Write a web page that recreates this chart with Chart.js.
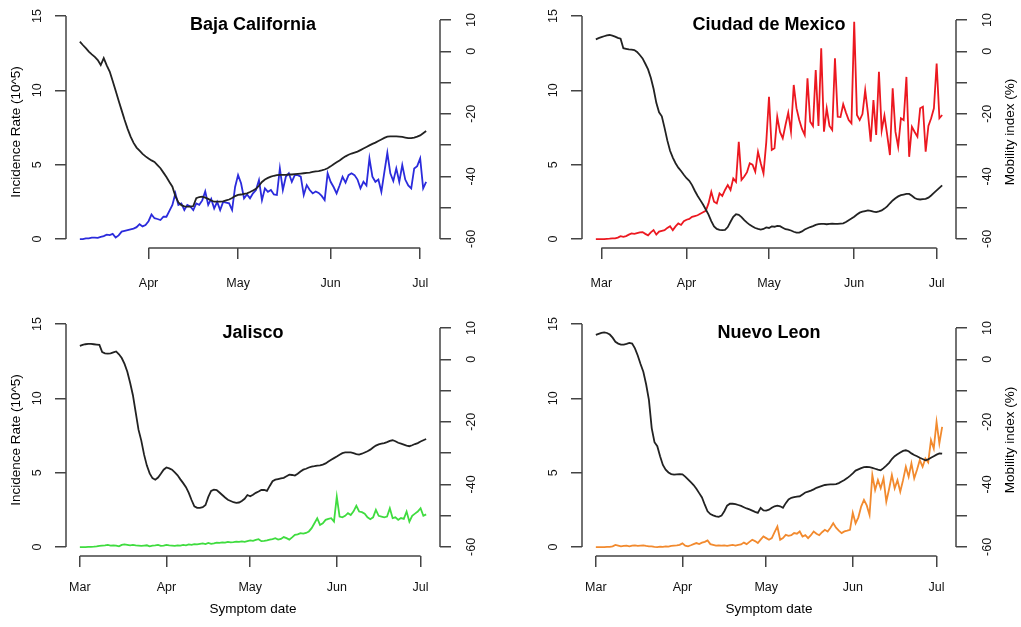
<!DOCTYPE html>
<html>
<head>
<meta charset="utf-8">
<title>Incidence and mobility by state</title>
<script src="https://cdn.jsdelivr.net/npm/chart.js@4.4.1/dist/chart.umd.min.js"></script>
<style>
  body { margin: 0; background: #fff; width: 1021px; height: 627px; position: relative; overflow: hidden; }
  canvas { position: absolute; }
</style>
</head>
<body>
<canvas id="baja" width="510" height="308" style="left:0;top:0"></canvas>
<canvas id="cdmx" width="505" height="308" style="left:516px;top:0"></canvas>
<canvas id="jalisco" width="510" height="319" style="left:0;top:308px"></canvas>
<canvas id="nuevoleon" width="505" height="319" style="left:516px;top:308px"></canvas>
<script>
// days counted from 1 March 2020 (day 0)
const monthTicks = [0, 31, 61, 92, 122];
const monthLabels = ["Mar", "Apr", "May", "Jun", "Jul"];
const incidenceTicks = [0, 5, 10, 15];
const mobilityTicks = [-60, -50, -40, -30, -20, -10, 0, 10];
const mobilityLabelled = [-60, -40, -20, 0, 10];

// Baja California, first day = 9 Mar
const bajaStart = 8;
const bajaIncidence = [
  0.0, 0.0, 0.05, 0.05, 0.1, 0.1, 0.08, 0.15, 0.2, 0.3,
  0.27, 0.35, 0.1, 0.25, 0.5, 0.55, 0.6, 0.65, 0.7, 0.8,
  1.0, 0.85, 0.94, 1.2, 1.65, 1.4, 1.35, 1.28, 1.5, 1.5,
  1.9, 2.3, 3.07, 2.3, 2.4, 1.95, 2.3, 2.2, 1.95, 2.4,
  2.3, 2.6, 3.2, 2.3, 2.7, 2.06, 2.5, 1.95, 2.5, 2.45,
  2.4, 1.95, 3.5, 4.3, 3.75, 2.74, 3.0, 2.74, 3.07, 3.3,
  3.97, 2.62, 3.41, 3.18, 3.3, 3.0, 2.96, 4.75, 3.3, 4.19,
  4.42, 3.85, 4.3, 4.3, 4.2, 2.96, 3.63, 3.3, 3.07, 3.2,
  3.1, 2.9, 2.62, 4.42, 3.85, 3.5, 3.07, 3.6, 4.19, 3.8,
  4.3, 4.42, 4.3, 4.0, 3.41, 3.85, 3.6, 5.43, 4.2, 3.85,
  4.0, 3.18, 4.5, 5.8, 4.42, 3.9, 4.75, 3.85, 4.98, 4.0,
  3.6, 3.41, 4.75, 4.9, 5.43, 3.41, 3.85
];
const bajaMobility = [
  3.1, 2.0, 1.0, -0.1, -1.0, -1.8, -2.8, -4.4, -2.2, -4.5,
  -6.5, -9.5, -12.6, -15.8, -18.9, -22.0, -24.8, -27.3, -29.3, -30.8,
  -31.8, -32.8, -33.6, -34.3, -34.9, -35.4, -36.4, -37.4, -38.8, -40.2,
  -41.8, -43.3, -46.3, -48.3, -49.2, -49.6, -49.7, -49.7, -49.5, -47.0,
  -46.6, -46.5, -46.8, -47.2, -47.7, -48.1, -48.1, -48.1, -48.0, -47.7,
  -47.4, -46.9, -46.3, -45.9, -45.8, -45.6, -45.4, -45.0, -44.5, -44.0,
  -43.0, -41.8, -41.0, -40.5, -40.1, -39.8, -39.6, -39.5, -39.5, -39.5,
  -39.4, -39.4, -39.3, -39.2, -39.1, -39.0, -38.9, -38.8, -38.6, -38.4,
  -38.3, -38.1, -37.8, -37.4, -36.8, -36.1, -35.5, -34.9, -34.2, -33.6,
  -33.1, -32.7, -32.4, -32.1, -31.6, -31.1, -30.6, -30.1, -29.6, -29.2,
  -28.7, -28.2, -27.7, -27.3, -27.2, -27.2, -27.2, -27.3, -27.4, -27.6,
  -27.8, -27.8, -27.6, -27.3, -26.9, -26.2, -25.5
];

// Ciudad de Mexico, first day = 28 Feb
const cdmxStart = -2;
const cdmxIncidence = [
  0.0, 0.0, 0.0, 0.0, 0.02, 0.03, 0.05, 0.05, 0.1, 0.2,
  0.15, 0.2, 0.3, 0.38, 0.35, 0.4, 0.45, 0.47, 0.35, 0.25,
  0.45, 0.6, 0.3, 0.5, 0.55, 0.6, 0.75, 0.87, 0.6, 0.85,
  1.05, 0.95, 1.2, 1.3, 1.35, 1.5, 1.55, 1.6, 1.7, 1.8,
  1.9, 2.4, 3.18, 2.51, 2.4, 3.07, 2.9, 3.3, 3.63, 3.3,
  4.08, 3.85, 6.54, 3.97, 4.2, 4.5, 5.09, 5.0, 4.53, 5.87,
  5.1, 4.42, 6.5, 9.57, 5.99, 6.1, 8.22, 7.2, 6.77, 7.67,
  8.5, 7.22, 10.36, 8.8, 8.0, 7.4, 7.0, 10.8, 7.89, 7.6,
  11.37, 7.6, 12.82, 7.22, 8.79, 7.6, 7.33, 12.15, 8.22, 8.2,
  9.06, 8.5, 8.0, 7.78, 14.6, 8.34, 8.0, 8.4, 10.0, 8.45,
  6.54, 9.35, 7.0, 11.25, 7.3, 8.3, 7.0, 5.65, 10.13, 7.22,
  6.21, 8.12, 8.0, 10.9, 5.53, 7.55, 7.2, 6.88, 8.79, 8.9,
  5.87, 7.6, 8.12, 8.79, 11.8, 8.12, 8.34
];
const cdmxMobility = [
  3.8, 4.2, 4.5, 4.8, 5.1, 5.2, 5.0, 4.7, 4.3, 4.0,
  1.0, 0.8, 0.6, 0.5, 0.4, -0.2, -1.2, -2.3, -4.0, -5.8,
  -8.5, -12.0, -16.5, -19.5, -20.8, -24.5, -28.5, -31.8, -34.0, -35.8,
  -37.2, -38.3, -39.5, -40.6, -41.4, -42.8, -44.6, -46.2, -47.6, -49.0,
  -50.6, -52.2, -54.3, -56.0, -56.8, -57.1, -57.2, -57.1, -56.2, -54.5,
  -52.9, -52.1, -52.3, -53.0, -54.0, -54.8, -55.5, -56.0, -56.5, -56.8,
  -57.0, -56.8, -56.3, -56.5, -56.0, -56.1, -55.8, -55.9, -56.4, -56.9,
  -57.0, -57.3, -57.7, -58.0, -58.0, -57.6, -57.0, -56.6, -56.2, -55.9,
  -55.5, -55.3, -55.2, -55.2, -55.3, -55.2, -55.1, -55.2, -55.2, -55.1,
  -55.0, -54.6, -54.0, -53.5, -52.9, -52.2, -51.6, -51.3, -51.1, -50.9,
  -51.0, -51.3, -51.4, -51.2, -50.9, -50.3, -49.6, -48.6, -47.7, -47.0,
  -46.4, -46.0, -45.8, -45.6, -45.6, -46.2, -46.9, -47.3, -47.4, -47.3,
  -47.2, -46.8, -46.1, -45.3, -44.5, -43.7, -42.9
];

// Jalisco, first day = 1 Mar
const jaliscoStart = 0;
const jaliscoIncidence = [
  0, 0, 0, 0.01, 0.02, 0.03, 0.05, 0.08, 0.1, 0.12, 0.15,
  0.1, 0.12, 0.1, 0.05, 0.15, 0.18, 0.15, 0.12, 0.15, 0.12,
  0.1, 0.08, 0.1, 0.12, 0.05, 0.1, 0.12, 0.15, 0.08, 0.1,
  0.15, 0.12, 0.1, 0.08, 0.12, 0.1, 0.15, 0.12, 0.18, 0.15,
  0.2, 0.18, 0.22, 0.25, 0.2, 0.28, 0.22, 0.25, 0.3, 0.28,
  0.32, 0.3, 0.35, 0.31, 0.33, 0.36, 0.35, 0.38, 0.35, 0.4,
  0.45, 0.42, 0.48, 0.53, 0.4, 0.42, 0.45, 0.5, 0.53, 0.6,
  0.5, 0.55, 0.67, 0.6, 0.5, 0.65, 0.82, 0.85, 0.94, 0.9,
  0.95, 1.05, 1.27, 1.6, 1.94, 1.49, 1.6, 1.83, 1.9, 1.94,
  1.71, 3.39, 2.05, 2.0, 2.1, 2.28, 2.15, 2.4, 2.77, 2.39,
  2.35, 2.25, 2.0, 1.87, 2.0, 2.5, 2.1, 2.05, 2.0, 2.05,
  2.61, 1.94, 2.0, 1.83, 1.95, 1.9, 2.39, 1.71, 2.1, 2.25,
  2.39, 2.61, 2.1, 2.2
];
const jaliscoMobility = [
  4.3, 4.6, 4.8, 4.9, 4.9, 4.8, 4.7, 4.6, 2.3, 1.9,
  1.8, 1.9, 2.2, 2.5, 1.6, 0.4, -1.5, -4.0, -7.5, -11.5,
  -17.0, -22.5, -26.0, -30.5, -34.0, -36.5, -38.0, -38.5, -37.8, -36.6,
  -35.3, -34.6, -34.9, -35.3, -36.2, -37.1, -38.4, -39.6, -40.9, -42.7,
  -45.0, -47.0, -47.5, -47.5, -47.3, -46.6, -44.0, -42.1, -41.7, -41.8,
  -42.6, -43.4, -44.2, -44.9, -45.3, -45.7, -45.9, -45.8, -45.3, -44.6,
  -43.4, -43.8, -43.3, -42.7, -42.3, -41.8, -41.8, -42.1, -40.5, -39.0,
  -38.5, -38.3, -38.1, -37.9, -37.4, -36.9, -37.0, -37.2, -36.6, -35.9,
  -35.3, -35.0, -34.6, -34.3, -34.2, -34.0, -33.9, -33.7, -33.3, -32.7,
  -32.1, -31.6, -31.1, -30.5, -30.0, -29.8, -29.8, -29.8, -30.0, -30.3,
  -30.5, -30.2, -29.8, -29.4, -28.9, -28.2, -27.6, -27.2, -27.0, -26.8,
  -26.5, -26.1, -25.9, -26.2, -26.7, -27.0, -27.3, -27.6, -27.8, -27.5,
  -27.1, -26.8, -26.3, -25.9, -25.5
];

// Nuevo Leon, first day = 1 Mar
const nuevoLeonStart = 0;
const nuevoLeonIncidence = [
  0, 0, 0, 0, 0.02, 0.02, 0.05, 0.15, 0.1, 0.05, 0.08,
  0.1, 0.05, 0.1, 0.12, 0.08, 0.1, 0.12, 0.08, 0.05, 0.05,
  0.02, 0.0, 0.03, 0.02, 0.05, 0.03, 0.08, 0.1, 0.12, 0.15,
  0.25, 0.1, 0.05, 0.12, 0.2, 0.27, 0.2, 0.3, 0.35, 0.45,
  0.2, 0.15, 0.1, 0.12, 0.1, 0.12, 0.08, 0.12, 0.15, 0.1,
  0.15, 0.18, 0.3, 0.2, 0.35, 0.49, 0.4, 0.27, 0.5, 0.71,
  0.6, 0.49, 0.6, 1.0, 1.38, 0.49, 0.6, 0.82, 0.75, 0.8,
  0.94, 0.9, 1.05, 0.71, 0.8, 0.6, 0.8, 1.05, 0.9, 0.8,
  1.0, 1.16, 1.05, 1.3, 1.6, 1.3, 1.1, 0.94, 1.05, 1.1,
  1.16, 2.3, 1.6, 2.0, 2.72, 3.17, 2.8, 2.16, 4.84, 3.84,
  4.51, 3.95, 4.62, 3.05, 3.9, 4.84, 3.95, 4.5, 3.72, 4.5,
  5.4, 4.73, 5.63, 4.62, 5.2, 5.85, 5.4, 5.96, 5.7, 7.19,
  6.63, 8.41, 6.97, 8.08
];
const nuevoLeonMobility = [
  7.8, 8.1, 8.4, 8.6, 8.4, 7.9, 6.9, 5.6, 5.0, 4.7,
  4.7, 4.9, 5.2, 5.0, 3.5, 1.2, -1.5, -4.0, -8.0, -13.0,
  -22.0, -26.5, -27.8, -31.0, -33.8, -35.3, -36.2, -36.7, -36.9, -36.8,
  -36.7, -36.8, -37.5, -38.4, -39.3, -40.2, -41.4, -42.8, -44.2, -46.5,
  -48.6, -49.5, -49.9, -50.2, -50.4, -50.0, -48.6, -46.8, -46.2, -46.2,
  -46.3, -46.6, -46.9, -47.3, -47.7, -48.0, -48.4, -48.8, -49.1, -47.5,
  -48.3, -48.4, -48.1, -47.5, -47.0, -46.8, -47.0, -47.5, -46.0, -44.8,
  -44.3, -44.1, -43.9, -43.8, -43.2, -42.6, -42.3, -42.0, -41.6, -41.1,
  -40.8, -40.5, -40.2, -40.1, -40.0, -40.0, -39.9, -39.6, -39.1, -38.6,
  -38.0, -37.3, -36.5, -35.6, -35.2, -34.8, -34.5, -34.4, -34.5, -34.7,
  -35.0, -35.3, -35.5, -34.8, -34.0, -33.1, -31.9, -31.0, -30.4, -29.8,
  -29.3, -29.1, -29.4, -30.1, -30.6, -31.0, -31.5, -31.9, -32.3, -32.0,
  -31.5, -31.0, -30.5, -30.1, -30.2
];

const axisColour = "#444";
const mobilityColour = "#222";
const font = '"Liberation Sans", Arial, sans-serif';

Chart.defaults.font.family = font;
Chart.defaults.font.size = 12.5;
Chart.defaults.color = "#111";

// R style axes: the axis line only runs from the first to the last tick,
// titles sit inside the plot region
const rAxes = {
  id: "rAxes",
  afterDraw(chart, args, opts) {
    const ctx = chart.ctx;
    const area = chart.chartArea;
    const sx = chart.scales.x, sy = chart.scales.y, sm = chart.scales.mob;
    const xt = sx.ticks;
    ctx.save();
    ctx.strokeStyle = axisColour;
    ctx.lineWidth = 1.5;
    ctx.beginPath();
    ctx.moveTo(sx.getPixelForValue(xt[0].value), area.bottom);
    ctx.lineTo(sx.getPixelForValue(xt[xt.length - 1].value), area.bottom);
    ctx.moveTo(area.left, sy.getPixelForValue(incidenceTicks[0]));
    ctx.lineTo(area.left, sy.getPixelForValue(incidenceTicks[incidenceTicks.length - 1]));
    ctx.moveTo(area.right, sm.getPixelForValue(mobilityTicks[0]));
    ctx.lineTo(area.right, sm.getPixelForValue(mobilityTicks[mobilityTicks.length - 1]));
    ctx.stroke();

    ctx.fillStyle = "#000";
    ctx.textAlign = "center";
    ctx.textBaseline = "middle";
    ctx.font = "bold 18px " + font;
    ctx.fillText(opts.title, (area.left + area.right) / 2, opts.titleY);

    ctx.font = "13.5px " + font;
    if (opts.leftTitle) {
      ctx.save();
      ctx.translate(16, 132);
      ctx.rotate(-Math.PI / 2);
      ctx.fillText(opts.leftTitle, 0, 0);
      ctx.restore();
    }
    if (opts.rightTitle) {
      ctx.save();
      ctx.translate(494, 132);
      ctx.rotate(-Math.PI / 2);
      ctx.fillText(opts.rightTitle, 0, 0);
      ctx.restore();
    }
    if (opts.xTitle) {
      ctx.fillText(opts.xTitle, (area.left + area.right) / 2, 301);
    }
    ctx.restore();
  }
};

function tickMarks() {
  return { drawOnChartArea: false, drawTicks: true, tickLength: 11, color: axisColour, lineWidth: 1.5 };
}

// fixed box sizes so every panel gets the same plot region
function fixBox(s, w, h) {
  if (w !== null) s.width = w;
  if (h !== null) s.height = h;
  s.paddingTop = 0;
  s.paddingBottom = 0;
  s.paddingLeft = 0;
  s.paddingRight = 0;
}

function drawPanel(id, title, start, incidence, mobility, colour, extra) {
  const canvas = document.getElementById(id);
  const n = incidence.length;
  const pad = 0.04 * (n - 1);
  const toPoints = arr => arr.map((v, i) => ({ x: start + i, y: v }));

  new Chart(canvas, {
    type: "line",
    data: {
      datasets: [
        { label: "Mobility index (%)", data: toPoints(mobility), yAxisID: "mob",
          borderColor: mobilityColour, borderWidth: 1.8, pointRadius: 0, tension: 0 },
        { label: "Incidence Rate (10^5)", data: toPoints(incidence), yAxisID: "y",
          borderColor: colour, borderWidth: 1.8, pointRadius: 0, tension: 0 }
      ]
    },
    options: {
      responsive: false,
      animation: false,
      events: [],
      layout: { padding: { top: 7, left: 0, right: 0, bottom: 0 } },
      plugins: {
        legend: { display: false },
        tooltip: { enabled: false },
        rAxes: Object.assign({ title: title, titleY: 25 }, extra)
      },
      scales: {
        x: {
          type: "linear",
          min: start - pad,
          max: start + n - 1 + pad,
          afterBuildTicks: s => {
            s.ticks = monthTicks.filter(v => v >= s.min && v <= s.max).map(v => ({ value: v }));
          },
          afterFit: s => fixBox(s, null, canvas.height - 248),
          grid: tickMarks(),
          border: { display: false },
          ticks: {
            autoSkip: false, maxRotation: 0, padding: extra.xPad, color: "#111",
            callback: v => monthLabels[monthTicks.indexOf(v)]
          }
        },
        y: {
          position: "left",
          min: -0.6,
          max: 15.6,
          afterBuildTicks: s => { s.ticks = incidenceTicks.map(v => ({ value: v })); },
          afterFit: s => fixBox(s, 66, null),
          grid: tickMarks(),
          border: { display: false },
          ticks: { minRotation: 90, maxRotation: 90, crossAlign: "center", padding: 11, color: "#111",
                   callback: v => String(v) }
        },
        mob: {
          position: "right",
          min: -62.9,
          max: 14.15,
          afterBuildTicks: s => { s.ticks = mobilityTicks.map(v => ({ value: v })); },
          afterFit: s => fixBox(s, canvas.width - 440, null),
          grid: tickMarks(),
          border: { display: false },
          ticks: { minRotation: 90, maxRotation: 90, crossAlign: "center", padding: 12, color: "#111",
                   callback: v => mobilityLabelled.includes(v) ? String(v) : "" }
        }
      }
    },
    plugins: [rAxes]
  });
}

drawPanel("baja", "Baja California", bajaStart, bajaIncidence, bajaMobility, "#2b2bdc",
  { leftTitle: "Incidence Rate (10^5)", xPad: 17 });
drawPanel("cdmx", "Ciudad de Mexico", cdmxStart, cdmxIncidence, cdmxMobility, "#ec1820",
  { rightTitle: "Mobility index (%)", xPad: 17 });
drawPanel("jalisco", "Jalisco", jaliscoStart, jaliscoIncidence, jaliscoMobility, "#3fdc3f",
  { leftTitle: "Incidence Rate (10^5)", xTitle: "Symptom date", xPad: 13.5 });
drawPanel("nuevoleon", "Nuevo Leon", nuevoLeonStart, nuevoLeonIncidence, nuevoLeonMobility, "#f28a2e",
  { rightTitle: "Mobility index (%)", xTitle: "Symptom date", xPad: 13.5 });
</script>
</body>
</html>
